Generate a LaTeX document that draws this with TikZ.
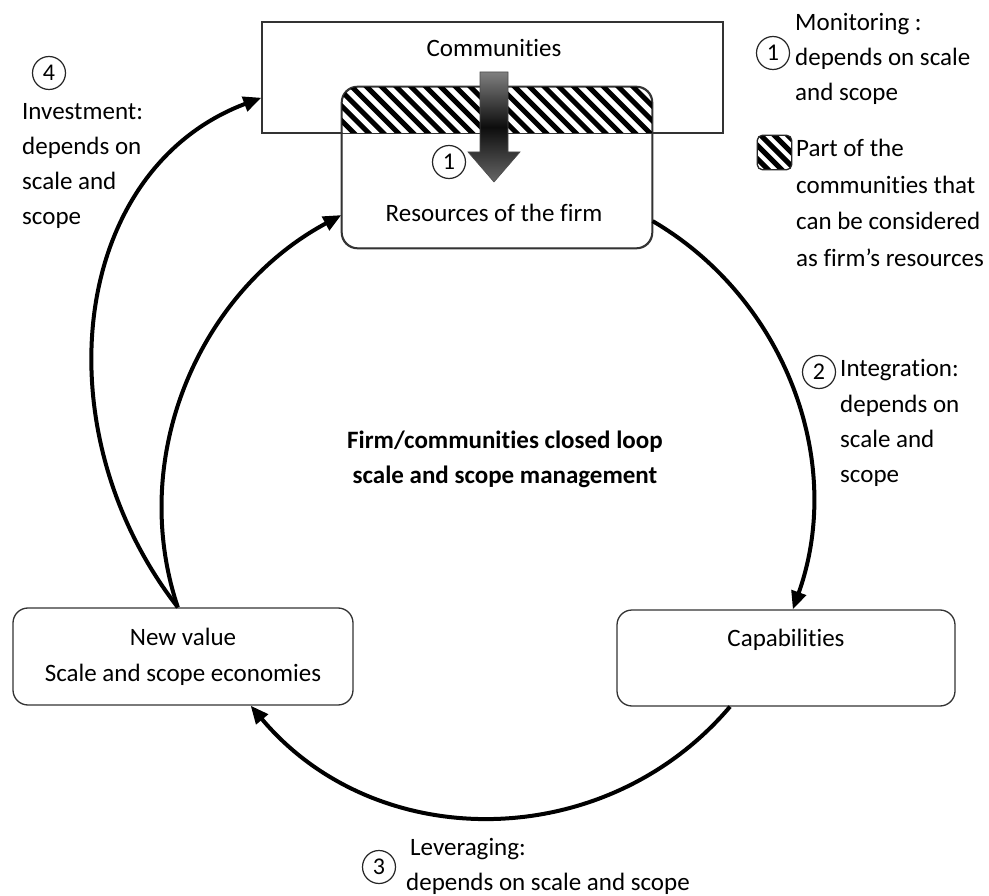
\documentclass[tikz,border=0pt]{standalone}
\usepackage{fontspec}
\setmainfont{Carlito}[Ligatures={NoCommon,NoContextual,NoRequired}]
\usetikzlibrary{arrows.meta}
\begin{document}
\begin{tikzpicture}[x=1pt,y=-1pt,
  every node/.style={font=\fontsize{25}{36}\selectfont, text=black},
  box/.style={draw=black!80, line width=1.3pt, fill=white, rounded corners=15pt, inner sep=0pt},
  num/.style={circle, draw=black!85, line width=1.2pt, minimum size=33pt, inner sep=0pt, font=\fontsize{24}{24}\selectfont},
  txt/.style={anchor=base west, inner sep=0pt},
  ctxt/.style={anchor=base, inner sep=0pt},
  loopar/.style={line width=4pt, -{Triangle[length=18pt,width=15pt]}},
  stripe/.style={line width=5pt, black}
]
\useasboundingbox (0,0) rectangle (989,896);
\fill[white] (0,0) rectangle (989,896);

% Communities and resources
\node[draw=black!80, line width=1.3pt, fill=white, minimum width=461pt, minimum height=111pt, inner sep=0pt] (com) at (492.5,77.5) {};
\node[box, rounded corners=16pt, minimum width=310pt, minimum height=161pt] (res) at (497,167.5) {};
\begin{scope}
  \clip (342,86) rectangle (652,133);
  \clip[rounded corners=16pt] (res.north west) rectangle (res.south east);
  \foreach \s in {0,...,25}
    \draw[stripe] (290+14.8*\s,84) -- (342+14.8*\s,136);
\end{scope}
\draw[black!80, line width=1.3pt, rounded corners=16pt] (res.north west) rectangle (res.south east);
\draw[black!80, line width=1.3pt] (com.south west) -- (com.south east);

\node[ctxt] (comt) at (494,56.5) {Communities};
\node[ctxt] (rest) at (494,221.5) {Resources of the firm};

% monitoring arrow
\shade[top color=black!50, bottom color=black!60, middle color=black!95, draw=black!70, line width=0.6pt]
  (480,72) -- (508,72) -- (508,152) -- (520,152) -- (494,182) -- (468,152) -- (480,152) -- cycle;
\node[num, fill=white] (n1a) at (449,162) {1};

% other boxes
\node[box, minimum width=340pt, minimum height=97pt] (nv) at (183,656.5) {};
\node[ctxt] (nvt1) at (183,645) {New value};
\node[ctxt] (nvt2) at (183,681) {Scale and scope economies};
\node[box, minimum width=338pt, minimum height=96pt] (cap) at (786,658) {};
\node[ctxt] (capt) at (786,646) {Capabilities};

% center text
\node[ctxt, font=\fontsize{25}{36}\selectfont\bfseries] (b1) at (505,448) {Firm/communities closed loop};
\node[ctxt, font=\fontsize{25}{36}\selectfont\bfseries] (b2) at (505,483) {scale and scope management};

% loop arrows
\draw[loopar] (res.-19) .. controls (784,298) and (846,460) .. (cap.82);
\draw[loopar] (cap.221.6) .. controls (605,854) and (376,855) .. (nv.-36.5);
\draw[loopar] (nv.96) .. controls (127,456) and (200,291) .. (res.197);
\draw[loopar] (nv.96) .. controls (40,430) and (70,170) .. (com.185);

% labels
\node[num] (n4) at (49,73) {4};
\foreach \t [count=\i] in {Investment:, depends on, scale and, scope}
  \node[txt] (inv\i) at (22,85+35*\i) {\t};
\node[num] (n2) at (819,372) {2};
\foreach \t [count=\i] in {Integration:, depends on, scale and, scope}
  \node[txt] (int\i) at (840,342+35*\i) {\t};
\node[num] (n3) at (379,867) {3};
\node[txt] (lev1) at (410,855) {Leveraging:};
\node[txt] (lev2) at (406,890) {depends on scale and scope};

% legend
\node[num] (n1b) at (773,53) {1};
\foreach \t [count=\i] in {Monitoring :, depends on scale, and scope}
  \node[txt] (mon\i) at (795,-4+35*\i) {\t};
\node[fill=white, minimum size=34pt, inner sep=0pt] (leg) at (774.5,152.5) {};
\begin{scope}
  \clip[rounded corners=5pt] (leg.north west) rectangle (leg.south east);
  \foreach \s in {0,...,5}
    \draw[stripe] (718+13.5*\s,133) -- (756+13.5*\s,171);
\end{scope}
\draw[black!85, line width=1.3pt, rounded corners=5pt] (leg.north west) rectangle (leg.south east);
\foreach \t [count=\i] in {Part of the, communities that, can be considered, as firm’s resources}
  \node[txt] (part\i) at (796,120.5+36.5*\i) {\t};
\end{tikzpicture}
\end{document}
